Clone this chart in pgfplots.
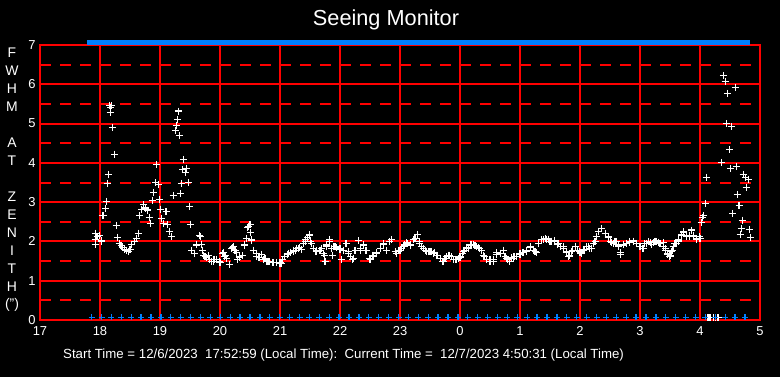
\documentclass[border=0pt]{standalone}
\usepackage{fontspec}
\setmainfont{Liberation Sans}
\usepackage{pgfplots}
\usepackage{pgfplotstable}
\pgfplotsset{compat=1.18}
\definecolor{gridred}{RGB}{255,0,0}
\definecolor{statblue}{RGB}{0,128,255}

\pgfplotstableread{
t v
17.92 2.04
17.92 1.93
17.93 2.21
17.95 2.12
17.99 2.14
18.02 2.00
18.02 2.02
18.04 2.66
18.055 2.66
18.09 2.84
18.105 3.02
18.12 3.48
18.14 3.71
18.155 5.47
18.17 5.29
18.18 5.40
18.195 5.45
18.205 4.90
18.24 4.22
18.27 2.41
18.29 2.11
18.32 1.95
18.35 1.90
18.38 1.85
18.41 1.80
18.445 1.76
18.48 1.74
18.50 1.80
18.53 1.93
18.57 2.00
18.61 2.08
18.64 2.21
18.655 2.66
18.695 2.82
18.73 2.94
18.76 2.85
18.79 2.80
18.82 2.62
18.84 2.46
18.87 3.05
18.89 3.25
18.93 3.50
18.94 3.96
18.97 3.45
18.99 3.07
19.005 2.82
19.03 2.59
19.06 2.45
19.10 2.76
19.12 2.44
19.155 2.26
19.195 2.12
19.22 3.17
19.255 4.83
19.27 4.96
19.29 5.11
19.305 5.32
19.32 4.70
19.34 3.22
19.355 3.48
19.38 3.83
19.39 4.09
19.42 3.76
19.445 3.86
19.47 3.50
19.49 2.89
19.505 2.44
19.53 1.76
19.58 1.70
19.61 1.91
19.655 2.14
19.67 2.12
19.69 1.93
19.695 1.93
19.71 1.78
19.73 1.64
19.75 1.61
19.78 1.59
19.805 1.64
19.83 1.53
19.86 1.48
19.89 1.48
19.90 1.55
19.945 1.53
19.99 1.48
20.00 1.47
20.045 1.70
20.055 1.72
20.07 1.61
20.095 1.64
20.11 1.57
20.155 1.42
20.195 1.82
20.21 1.84
20.22 1.87
20.25 1.78
20.27 1.72
20.28 1.72
20.29 1.53
20.33 1.61
20.33 1.59
20.38 1.64
20.405 1.89
20.405 1.91
20.445 2.08
20.46 2.35
20.47 2.37
20.50 2.42
20.51 2.23
20.53 2.03
20.53 2.04
20.555 1.76
20.555 1.78
20.61 1.61
20.61 1.70
20.65 1.60
20.655 1.59
20.695 1.67
20.72 1.53
20.75 1.57
20.78 1.48
20.80 1.50
20.83 1.48
20.88 1.46
20.89 1.47
20.945 1.47
20.945 1.46
21.0 1.45
21.0 1.44
21.03 1.44
21.045 1.53
21.08 1.61
21.12 1.67
21.14 1.70
21.17 1.72
21.18 1.72
21.22 1.74
21.22 1.78
21.26 1.78
21.28 1.82
21.305 1.82
21.33 1.84
21.36 1.80
21.39 1.95
21.42 1.99
21.43 2.06
21.455 2.10
21.49 2.17
21.49 2.16
21.51 1.99
21.53 1.95
21.555 1.82
21.60 1.74
21.61 1.76
21.655 1.78
21.67 1.78
21.695 1.82
21.72 1.70
21.74 1.65
21.75 1.48
21.78 1.87
21.78 1.91
21.82 1.99
21.83 2.05
21.83 2.04
21.86 1.82
21.88 1.65
21.90 1.87
21.93 1.87
21.945 1.84
22.0 1.80
22.0 1.82
22.03 1.53
22.055 1.78
22.10 1.95
22.14 1.70
22.14 1.74
22.18 1.61
22.21 1.53
22.22 1.57
22.25 1.78
22.305 2.02
22.345 1.78
22.345 1.82
22.39 1.91
22.39 1.89
22.43 1.78
22.445 1.78
22.49 1.57
22.50 1.53
22.545 1.65
22.555 1.61
22.61 1.70
22.61 1.72
22.67 1.82
22.72 1.93
22.72 1.95
22.78 1.78
22.83 1.99
22.86 2.04
22.92 1.74
22.945 1.70
22.97 1.78
23.0 1.78
23.03 1.82
23.055 1.87
23.08 1.91
23.11 1.97
23.12 1.95
23.17 1.91
23.18 1.89
23.22 2.04
23.25 2.08
23.29 2.18
23.32 1.99
23.33 1.95
23.36 1.87
23.39 1.82
23.42 1.78
23.445 1.74
23.47 1.74
23.50 1.74
23.53 1.74
23.555 1.70
23.58 1.72
23.61 1.65
23.62 1.65
23.67 1.57
23.71 1.48
23.72 1.48
23.75 1.57
23.78 1.61
23.81 1.65
23.83 1.65
23.86 1.61
23.89 1.54
23.92 1.55
23.945 1.54
23.97 1.57
24.0 1.61
24.0 1.59
24.045 1.70
24.055 1.74
24.08 1.78
24.11 1.85
24.14 1.82
24.17 1.91
24.195 1.91
24.22 1.91
24.25 1.89
24.28 1.87
24.305 1.84
24.33 1.82
24.36 1.78
24.39 1.65
24.40 1.61
24.445 1.54
24.445 1.53
24.50 1.50
24.50 1.54
24.555 1.54
24.555 1.50
24.61 1.71
24.61 1.67
24.67 1.70
24.72 1.78
24.75 1.61
24.78 1.57
24.79 1.53
24.82 1.48
24.83 1.50
24.86 1.59
24.89 1.57
24.90 1.61
24.945 1.61
25.0 1.70
25.0 1.67
25.05 1.72
25.055 1.72
25.11 1.74
25.11 1.78
25.17 1.84
25.17 1.87
25.22 1.78
25.25 1.74
25.27 1.72
25.305 1.95
25.36 2.04
25.39 2.04
25.42 2.08
25.445 2.05
25.47 2.06
25.50 1.99
25.53 2.01
25.58 2.02
25.58 1.99
25.62 1.93
25.64 1.95
25.67 1.87
25.72 1.87
25.72 1.82
25.77 1.72
25.78 1.74
25.81 1.61
25.82 1.63
25.86 1.74
25.88 1.78
25.92 1.87
25.93 1.87
25.96 1.78
25.99 1.74
26.0 1.72
26.03 1.70
26.055 1.78
26.08 1.80
26.11 1.87
26.14 1.87
26.155 1.82
26.195 1.82
26.23 1.95
26.25 1.99
26.27 2.12
26.305 2.25
26.36 2.33
26.42 2.21
26.47 2.12
26.47 2.10
26.51 1.99
26.53 1.97
26.555 1.95
26.58 1.99
26.60 1.99
26.64 1.91
26.64 1.87
26.67 1.71
26.68 1.67
26.72 1.91
26.72 1.93
26.78 1.95
26.83 1.97
26.83 1.99
26.89 1.99
26.89 2.01
26.945 1.95
27.0 1.87
27.045 1.82
27.055 1.82
27.08 1.95
27.11 1.95
27.14 1.99
27.17 1.97
27.195 1.93
27.22 1.97
27.25 2.01
27.28 1.99
27.305 1.98
27.33 1.95
27.345 1.95
27.39 1.97
27.39 1.87
27.42 1.78
27.43 1.82
27.455 1.67
27.46 1.70
27.49 1.61
27.50 1.63
27.53 1.74
27.545 1.78
27.555 1.87
27.58 1.95
27.60 1.95
27.64 2.05
27.64 2.01
27.695 2.16
27.695 2.18
27.73 2.22
27.73 2.25
27.78 2.12
27.78 2.14
27.82 2.12
27.83 2.14
27.86 2.29
27.89 2.16
27.89 2.12
27.945 2.05
27.945 2.08
27.99 2.12
28.0 2.08
28.02 2.49
28.04 2.61
28.055 2.66
28.09 2.97
28.105 3.63
28.36 4.01
28.39 6.23
28.42 6.07
28.44 5.00
28.46 5.77
28.49 4.34
28.505 3.86
28.52 4.93
28.545 2.71
28.59 5.92
28.605 3.91
28.62 3.20
28.65 2.92
28.67 2.18
28.69 2.33
28.705 2.54
28.72 3.71
28.755 3.63
28.77 3.38
28.805 3.58
28.82 2.31
28.84 2.10
28.12 0.06
28.15 0.06
28.18 0.06
28.22 0.06
28.26 0.06
28.30 0.06
}\seeing

\pgfplotstableread{
t f
17.860 1
18.025 1
18.190 1
18.355 1
18.520 1
18.685 1
18.850 1
19.015 1
19.180 1
19.345 1
19.510 1
19.675 1
19.840 1
20.005 1
20.170 1
20.335 1
20.500 1
20.665 1
20.830 1
20.995 1
21.160 1
21.325 1
21.490 1
21.655 1
21.820 1
21.985 1
22.150 1
22.315 1
22.480 1
22.645 1
22.810 1
22.975 1
23.140 1
23.305 1
23.470 1
23.635 1
23.800 1
23.965 1
24.130 1
24.295 1
24.460 1
24.625 1
24.790 1
24.955 1
25.120 1
25.285 1
25.450 1
25.615 1
25.780 1
25.945 1
26.110 1
26.275 1
26.440 1
26.605 1
26.770 1
26.935 1
27.100 1
27.265 1
27.430 1
27.595 1
27.760 1
27.925 1
28.090 1
28.255 1
28.420 1
28.585 1
28.750 1
}\status

\begin{document}
\begin{tikzpicture}
\fill[black] (-40bp,-57bp) rectangle (740bp,320bp);
\useasboundingbox (-40bp,-57bp) rectangle (740bp,320bp);
\begin{axis}[
  at={(0,0)}, anchor=south west,
  scale only axis, width=720bp, height=275bp,
  xmin=17, xmax=29, ymin=0, ymax=7,
  clip=false,
  xtick={17,18,...,29},
  xticklabels={17,18,19,20,21,22,23,0,1,2,3,4,5},
  ytick={0,1,...,7},
  extra y ticks={0.5,1.5,2.5,3.5,4.5,5.5,6.5},
  extra y tick labels={},
  extra y tick style={grid=major, major grid style={gridred, line width=2bp, dash pattern=on 11bp off 9bp}},
  grid=major,
  major grid style={gridred, line width=2bp},
  axis line style={gridred, line width=2bp},
  tick style={draw=none},
  /pgf/number format/assume math mode=true,
  ticklabel style={text=white, font=\fontsize{13}{13}\selectfont},
  xticklabel style={yshift=-3bp},
  yticklabel style={xshift=-1bp},
]
\addplot[only marks, mark=+, mark size=3.5bp, white, line width=1.1bp] table[x=t,y=v]{\seeing};
\addplot[only marks, mark=-, statblue, line width=4.6bp, mark size=5.1bp] table[x=t, y expr=7.06*\thisrow{f}]{\status};
\addplot[only marks, mark=+, statblue, line width=1.3bp, mark size=3bp] table[x=t, y expr=0.07*\thisrow{f}]{\status};
\end{axis}
\node[text=white, font=\fontsize{21.8}{26}\selectfont] at (346bp,300bp) {Seeing Monitor};
\foreach \i/\c in {0/F,1/W,2/H,3/M,5/A,6/T,8/Z,9/E,10/N,11/I,12/T,13/H,14/{(")}}
  \node[text=white, font=\fontsize{14}{14}\selectfont] at (-28bp,{(267-18*\i)*1bp}) {\c};
\node[anchor=west, inner sep=0pt, text=white, font=\fontsize{13.3}{14}\selectfont] at (23bp,-35bp)
  {Start Time =~12/6/2023~~17:52:59 (Local Time):~~Current Time =~~12/7/2023 4:50:31 (Local Time)};
\end{tikzpicture}
\end{document}
